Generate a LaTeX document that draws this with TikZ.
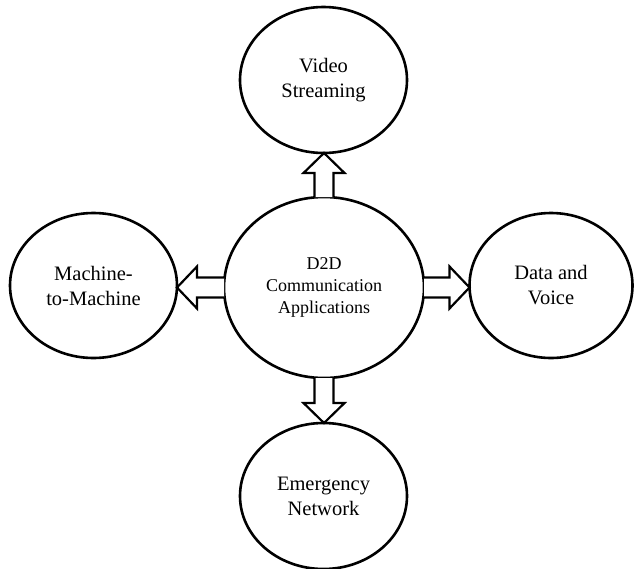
\documentclass[tikz,border=0pt]{standalone}
\usepackage{fontspec}
\setmainfont{Liberation Serif}
\usetikzlibrary{shapes.geometric,calc}
\begin{document}
\begin{tikzpicture}[x=1pt,y=-1pt,
  bubble/.style={ellipse,draw=black,line width=2.6pt,inner sep=0pt,outer sep=0pt,
    align=center,font=\fontsize{20.5}{25}\selectfont},
  fat/.style={draw=black,line width=2.2pt,fill=white,line join=miter}]
\useasboundingbox (0,0) rectangle (634,568);
\node[bubble,minimum width=200pt,minimum height=181pt,font=\fontsize{18}{22}\selectfont] (ctr) at (324,287.5) {D2D\\Communication\\Applications};
\node[bubble,minimum width=167pt,minimum height=146pt] (top) at (323.5,80) {Video\\Streaming};
\node[bubble,minimum width=167pt,minimum height=145pt] (left) at (93.5,285.5) {Machine-\\to-Machine};
\node[bubble,minimum width=163pt,minimum height=145pt] (right) at (551,285.5) {Data and\\Voice};
\node[bubble,minimum width=167pt,minimum height=146pt] (bot) at (323.5,496) {Emergency\\Network};
% top arrow
\coordinate (tT) at (ctr.north |- top.south);
\draw[fat] ($(ctr.north)+(-9.5,0)$) -- ($(tT)+(-9.5,20)$) -- ($(tT)+(-20.5,20)$) -- (tT)
  -- ($(tT)+(20.5,20)$) -- ($(tT)+(9.5,20)$) -- ($(ctr.north)+(9.5,0)$);
% bottom arrow
\coordinate (tB) at (ctr.south |- bot.north);
\draw[fat] ($(ctr.south)+(-9.5,0)$) -- ($(tB)+(-9.5,-20)$) -- ($(tB)+(-20.5,-20)$) -- (tB)
  -- ($(tB)+(20.5,-20)$) -- ($(tB)+(9.5,-20)$) -- ($(ctr.south)+(9.5,0)$);
% left arrow
\coordinate (tL) at (left.east |- ctr.west);
\draw[fat] ($(ctr.west)+(0,-10)$) -- ($(tL)+(20,-10)$) -- ($(tL)+(20,-21)$) -- (tL)
  -- ($(tL)+(20,21)$) -- ($(tL)+(20,10)$) -- ($(ctr.west)+(0,10)$);
% right arrow
\coordinate (tR) at (right.west |- ctr.east);
\draw[fat] ($(ctr.east)+(0,-10)$) -- ($(tR)+(-20,-10)$) -- ($(tR)+(-20,-21)$) -- (tR)
  -- ($(tR)+(-20,21)$) -- ($(tR)+(-20,10)$) -- ($(ctr.east)+(0,10)$);
\end{tikzpicture}
\end{document}
